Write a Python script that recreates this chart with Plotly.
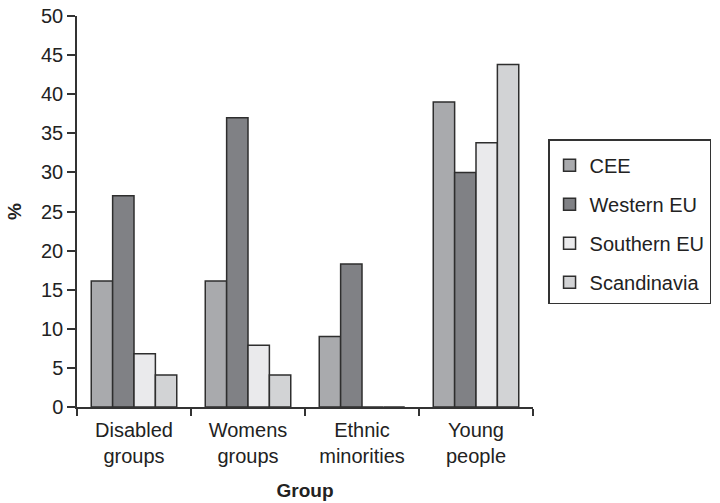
import plotly.graph_objects as go

# Survey shares (%) by target group and region
groups = ["Disabled<br>groups", "Womens<br>groups", "Ethnic<br>minorities", "Young<br>people"]
regions = ["CEE", "Western EU", "Southern EU", "Scandinavia"]
cee = [16.1, 16.1, 9.0, 39.0]
western_eu = [27.0, 37.0, 18.3, 30.0]
southern_eu = [6.8, 7.9, 0, 33.8]
scandinavia = [4.1, 4.1, 0, 43.8]
y_ticks = [0, 5, 10, 15, 20, 25, 30, 35, 40, 45, 50]

series = [cee, western_eu, southern_eu, scandinavia]
fills = ["#a9aaad", "#808185", "#eaeaec", "#d2d3d5"]
edge = "#2e2e2e"
font_family = "Liberation Sans, Arial, Helvetica, sans-serif"

fig = go.Figure()
for name, vals, col in zip(regions, series, fills):
    fig.add_trace(go.Bar(
        x=groups, y=vals, name=name, legendgroup=name,
        marker=dict(color=col, line=dict(color=edge, width=1.5)),
    ))

fig.update_layout(
    width=720, height=503,
    margin=dict(l=77, r=187, t=16, b=96, autoexpand=False),
    paper_bgcolor="white", plot_bgcolor="white",
    font=dict(family=font_family, size=20, color="#222"),
    barmode="group", bargap=0.25, bargroupgap=0,
    showlegend=True,
    legend=dict(
        x=1.033, y=0.685, xanchor="left", yanchor="top",
        bordercolor="#333", borderwidth=1.5,
        font=dict(size=20, family=font_family, color="#222"),
        title=dict(text=" ", font=dict(size=4)),
        tracegroupgap=10, itemclick=False,
    ),
    xaxis=dict(
        title=dict(text="<b>Group</b>", font=dict(size=19), standoff=18),
        showline=True, linecolor="#333", linewidth=1.5,
        ticks="outside", ticklen=7, tickcolor="#333", tickwidth=1.5,
        tickson="boundaries", showgrid=False, zeroline=False,
        ticklabelstandoff=4, automargin=False,
    ),
    yaxis=dict(
        title=dict(text="<b>%</b>", font=dict(size=19), standoff=14),
        range=[0, 50], tickvals=y_ticks,
        showline=True, linecolor="#333", linewidth=1.5,
        ticks="outside", ticklen=8, tickcolor="#333", tickwidth=1.5,
        showgrid=False, zeroline=False, automargin=False,
    ),
)

fig.write_html("out.html")
